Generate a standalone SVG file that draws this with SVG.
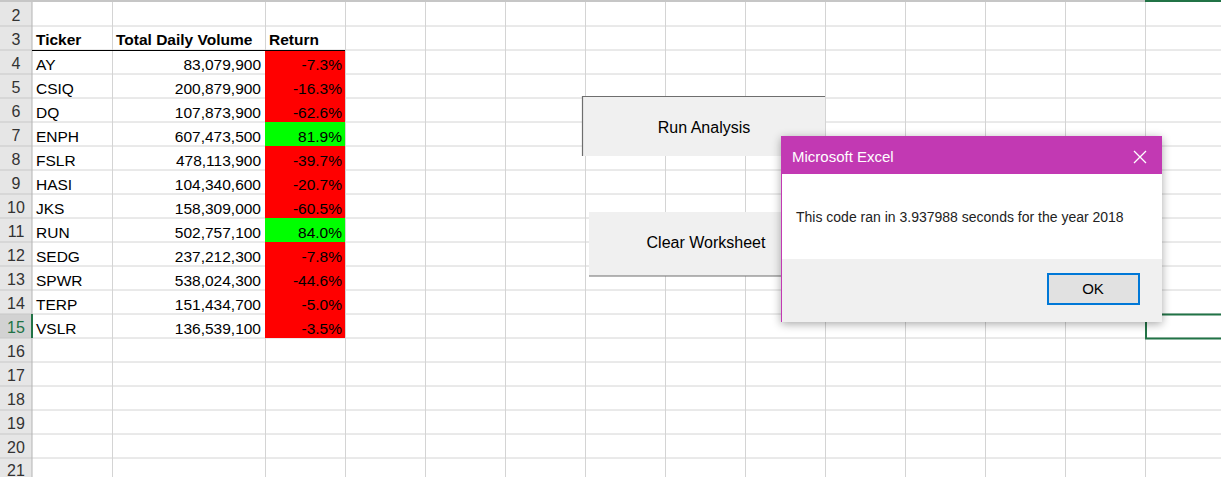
<svg xmlns="http://www.w3.org/2000/svg" width="1221" height="477" viewBox="0 0 1221 477">
<style>
  text { font-family: "Liberation Sans", Arial, sans-serif; }
  .grid line { stroke: #d4d4d4; stroke-width: 1; }
  .rh { font-size: 16px; fill: #333; text-anchor: middle; }
  .hd { font-size: 15.5px; font-weight: bold; fill: #000; }
  .tk { font-size: 15.5px; fill: #000; }
  .num { font-size: 15.5px; fill: #000; text-anchor: end; }
  .btn { font-size: 16px; fill: #000; text-anchor: middle; }
  .red { fill: #ff0000; }
  .grn { fill: #00ff00; }
</style>
<defs>
  <filter id="shadow" x="-10%" y="-10%" width="120%" height="130%">
    <feGaussianBlur in="SourceAlpha" stdDeviation="5"/>
    <feOffset dx="0" dy="2" result="b"/>
    <feComponentTransfer><feFuncA type="linear" slope="0.35"/></feComponentTransfer>
    <feMerge><feMergeNode/><feMergeNode in="SourceGraphic"/></feMerge>
  </filter>
</defs>
<rect x="0" y="0" width="1221" height="477" fill="#ffffff"/>

<g id="sheet">
  <g class="grid">
    <line x1="32" y1="26" x2="1221" y2="26"/><line x1="32" y1="50" x2="1221" y2="50"/>
    <line x1="32" y1="74" x2="1221" y2="74"/><line x1="32" y1="98" x2="1221" y2="98"/>
    <line x1="32" y1="122" x2="1221" y2="122"/><line x1="32" y1="146" x2="1221" y2="146"/>
    <line x1="32" y1="170" x2="1221" y2="170"/><line x1="32" y1="194" x2="1221" y2="194"/>
    <line x1="32" y1="218" x2="1221" y2="218"/><line x1="32" y1="242" x2="1221" y2="242"/>
    <line x1="32" y1="266" x2="1221" y2="266"/><line x1="32" y1="290" x2="1221" y2="290"/>
    <line x1="32" y1="314" x2="1221" y2="314"/><line x1="32" y1="338" x2="1221" y2="338"/>
    <line x1="32" y1="362" x2="1221" y2="362"/><line x1="32" y1="386" x2="1221" y2="386"/>
    <line x1="32" y1="410" x2="1221" y2="410"/><line x1="32" y1="434" x2="1221" y2="434"/>
    <line x1="32" y1="458" x2="1221" y2="458"/>
    <line x1="112.5" y1="2" x2="112.5" y2="477"/><line x1="265.5" y1="2" x2="265.5" y2="477"/>
    <line x1="345.5" y1="2" x2="345.5" y2="477"/><line x1="425.5" y1="2" x2="425.5" y2="477"/>
    <line x1="505.5" y1="2" x2="505.5" y2="477"/><line x1="585.5" y1="2" x2="585.5" y2="477"/>
    <line x1="665.5" y1="2" x2="665.5" y2="477"/><line x1="745.5" y1="2" x2="745.5" y2="477"/>
    <line x1="825.5" y1="2" x2="825.5" y2="477"/><line x1="905.5" y1="2" x2="905.5" y2="477"/>
    <line x1="985.5" y1="2" x2="985.5" y2="477"/><line x1="1065.5" y1="2" x2="1065.5" y2="477"/>
    <line x1="1145.5" y1="2" x2="1145.5" y2="477"/>
  </g>
  <rect x="0" y="0" width="1221" height="2" fill="#c6c6c6"/>
  <rect x="1145" y="0" width="76" height="2" fill="#217346"/>
</g>

<g id="row-headers">
  <rect x="0" y="2" width="32" height="475" fill="#e6e6e6"/>
  <rect x="0" y="314" width="32" height="24" fill="#d2d2d2"/>
  <g stroke="#c8c8c8" stroke-width="1">
    <line x1="0" y1="26" x2="32" y2="26"/><line x1="0" y1="50" x2="32" y2="50"/>
    <line x1="0" y1="74" x2="32" y2="74"/><line x1="0" y1="98" x2="32" y2="98"/>
    <line x1="0" y1="122" x2="32" y2="122"/><line x1="0" y1="146" x2="32" y2="146"/>
    <line x1="0" y1="170" x2="32" y2="170"/><line x1="0" y1="194" x2="32" y2="194"/>
    <line x1="0" y1="218" x2="32" y2="218"/><line x1="0" y1="242" x2="32" y2="242"/>
    <line x1="0" y1="266" x2="32" y2="266"/><line x1="0" y1="290" x2="32" y2="290"/>
    <line x1="0" y1="314" x2="32" y2="314"/><line x1="0" y1="338" x2="32" y2="338"/>
    <line x1="0" y1="362" x2="32" y2="362"/><line x1="0" y1="386" x2="32" y2="386"/>
    <line x1="0" y1="410" x2="32" y2="410"/><line x1="0" y1="434" x2="32" y2="434"/>
    <line x1="0" y1="458" x2="32" y2="458"/>
  </g>
  <line x1="32" y1="2" x2="32" y2="477" stroke="#b4b4b4" stroke-width="1"/>
  <line x1="32" y1="314" x2="32" y2="338" stroke="#217346" stroke-width="2"/>
  <text class="rh" x="16" y="21">2</text>
  <text class="rh" x="16" y="45">3</text>
  <text class="rh" x="16" y="69">4</text>
  <text class="rh" x="16" y="93">5</text>
  <text class="rh" x="16" y="117">6</text>
  <text class="rh" x="16" y="141">7</text>
  <text class="rh" x="16" y="165">8</text>
  <text class="rh" x="16" y="189">9</text>
  <text class="rh" x="16" y="213">10</text>
  <text class="rh" x="16" y="237">11</text>
  <text class="rh" x="16" y="261">12</text>
  <text class="rh" x="16" y="285">13</text>
  <text class="rh" x="16" y="309">14</text>
  <text class="rh" x="16" y="333" style="fill:#217346">15</text>
  <text class="rh" x="16" y="357">16</text>
  <text class="rh" x="16" y="381">17</text>
  <text class="rh" x="16" y="405">18</text>
  <text class="rh" x="16" y="429">19</text>
  <text class="rh" x="16" y="453">20</text>
  <text class="rh" x="16" y="476">21</text>
</g>

<g id="table">
  <rect class="red" x="265" y="50" width="80" height="288"/>
  <rect class="grn" x="265" y="122" width="80" height="24"/>
  <rect class="grn" x="265" y="218" width="80" height="24"/>
  <line x1="32" y1="50.5" x2="345" y2="50.5" stroke="#000" stroke-width="1"/>
  <text class="hd" x="36" y="45">Ticker</text>
  <text class="hd" x="116" y="45">Total Daily Volume</text>
  <text class="hd" x="269" y="45">Return</text>

  <text class="tk" x="36" y="70">AY</text>
  <text class="tk" x="36" y="94">CSIQ</text>
  <text class="tk" x="36" y="118">DQ</text>
  <text class="tk" x="36" y="142">ENPH</text>
  <text class="tk" x="36" y="166">FSLR</text>
  <text class="tk" x="36" y="190">HASI</text>
  <text class="tk" x="36" y="214">JKS</text>
  <text class="tk" x="36" y="238">RUN</text>
  <text class="tk" x="36" y="262">SEDG</text>
  <text class="tk" x="36" y="286">SPWR</text>
  <text class="tk" x="36" y="310">TERP</text>
  <text class="tk" x="36" y="334">VSLR</text>

  <text class="num" x="261" y="70">83,079,900</text>
  <text class="num" x="261" y="94">200,879,900</text>
  <text class="num" x="261" y="118">107,873,900</text>
  <text class="num" x="261" y="142">607,473,500</text>
  <text class="num" x="261" y="166">478,113,900</text>
  <text class="num" x="261" y="190">104,340,600</text>
  <text class="num" x="261" y="214">158,309,000</text>
  <text class="num" x="261" y="238">502,757,100</text>
  <text class="num" x="261" y="262">237,212,300</text>
  <text class="num" x="261" y="286">538,024,300</text>
  <text class="num" x="261" y="310">151,434,700</text>
  <text class="num" x="261" y="334">136,539,100</text>

  <text class="num" x="342" y="70">-7.3%</text>
  <text class="num" x="342" y="94">-16.3%</text>
  <text class="num" x="342" y="118">-62.6%</text>
  <text class="num" x="342" y="142">81.9%</text>
  <text class="num" x="342" y="166">-39.7%</text>
  <text class="num" x="342" y="190">-20.7%</text>
  <text class="num" x="342" y="214">-60.5%</text>
  <text class="num" x="342" y="238">84.0%</text>
  <text class="num" x="342" y="262">-7.8%</text>
  <text class="num" x="342" y="286">-44.6%</text>
  <text class="num" x="342" y="310">-5.0%</text>
  <text class="num" x="342" y="334">-3.5%</text>
</g>

<g id="selection">
  <rect x="1146" y="314.5" width="80" height="24" fill="none" stroke="#217346" stroke-width="2"/>
</g>

<g id="btn-run">
  <rect x="582" y="96" width="243" height="60" fill="#f0f0f0"/>
  <path d="M582.5 156 V96.5 H825" fill="none" stroke="#6e6e6e" stroke-width="1.2"/>
  <text class="btn" x="704" y="133">Run Analysis</text>
</g>

<g id="btn-clear">
  <rect x="589" y="212" width="200" height="64" fill="#f0f0f0"/>
  <line x1="589" y1="276" x2="789" y2="276" stroke="#6e6e6e" stroke-width="1.2"/>
  <text class="btn" x="706" y="248">Clear Worksheet</text>
</g>

<g id="connectors"/>

<g id="dialog">
  <g filter="url(#shadow)">
    <rect x="781" y="136" width="381" height="186" fill="#f0f0f0"/>
  </g>
  <rect x="781" y="136" width="381" height="38" fill="#c239b3"/>
  <rect x="781" y="174" width="381" height="85" fill="#ffffff"/>
  <line x1="781.5" y1="136" x2="781.5" y2="322" stroke="#c239b3" stroke-width="1"/>
  <text x="792" y="162" font-size="15" fill="#ffffff">Microsoft Excel</text>
  <path d="M1134 151 L1146 163 M1146 151 L1134 163" stroke="#ffffff" stroke-width="1.3" fill="none"/>
  <text x="796" y="222" font-size="14" fill="#222">This code ran in 3.937988 seconds for the year 2018</text>
  <rect x="1048" y="274" width="91" height="30" fill="#e1e1e1" stroke="#0078d7" stroke-width="2"/>
  <text x="1093" y="294" font-size="15" fill="#000" text-anchor="middle">OK</text>
</g>
</svg>
